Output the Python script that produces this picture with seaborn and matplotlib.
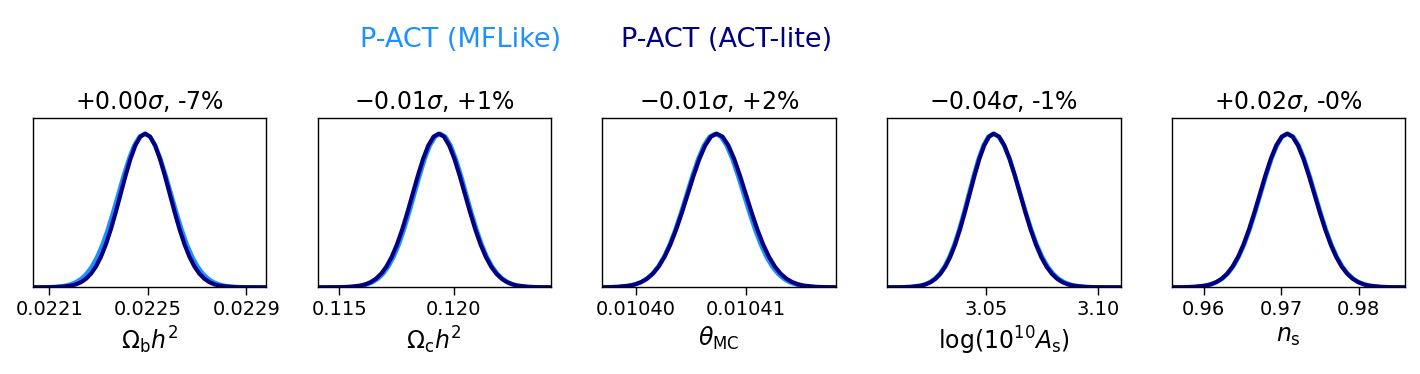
import matplotlib
matplotlib.use('Agg')
import matplotlib.pyplot as plt
import seaborn as sns

sns.set_style('ticks')
plt.rcParams['font.family'] = 'DejaVu Sans'
plt.rcParams['mathtext.fontset'] = 'dejavusans'
plt.rcParams['axes.edgecolor'] = 'black'
plt.rcParams['xtick.color'] = 'black'
plt.rcParams['text.color'] = 'black'
plt.rcParams['axes.labelcolor'] = 'black'

MFLIKE_COLOR = '#1e90ff'
ACTLITE_COLOR = '#000080'
run_labels = ['P-ACT (MFLike)', 'P-ACT (ACT-lite)']

param_labels = [r'$\Omega_{\rm b}h^2$', r'$\Omega_{\rm c}h^2$', r'$\theta_{\rm MC}$',
                r'$\log(10^{10}A_{\rm s})$', r'$n_{\rm s}$']
shift_sigma = [0.00, -0.01, -0.01, -0.04, 0.02]
width_change = [-7, 1, 2, -1, -0.4]

density = [0.0, 0.0001, 0.0007, 0.0031, 0.0111, 0.0198, 0.034, 0.0561, 0.0889, 0.1353,
           0.1979, 0.278, 0.3753, 0.4868, 0.6065, 0.7261, 0.8353, 0.9231, 0.9802, 1.0,
           0.9802, 0.9231, 0.8353, 0.7261, 0.6065, 0.4868, 0.3753, 0.278, 0.1979, 0.1353,
           0.0889, 0.0561, 0.034, 0.0198, 0.0111, 0.0031, 0.0007, 0.0001, 0.0]

ombh2_mflike = [0.02189575, 0.022014, 0.0220785, 0.0221215, 0.0221645, 0.022186, 0.0222075,
                0.022229, 0.0222505, 0.022272, 0.0222935, 0.022315, 0.0223365, 0.022358,
                0.0223795, 0.022401, 0.0224225, 0.022444, 0.0224655, 0.022487, 0.0225085,
                0.02253, 0.0225515, 0.022573, 0.0225945, 0.022616, 0.0226375, 0.022659,
                0.0226805, 0.022702, 0.0227235, 0.022745, 0.0227665, 0.022788, 0.0228095,
                0.0228525, 0.0228955, 0.02296, 0.02307825]
ombh2_actlite = [0.021939, 0.022049, 0.022109, 0.022149, 0.022189, 0.022209, 0.022229,
                 0.022249, 0.022269, 0.022289, 0.022309, 0.022329, 0.022349, 0.022369,
                 0.022389, 0.022409, 0.022429, 0.022449, 0.022469, 0.022489, 0.022509,
                 0.022529, 0.022549, 0.022569, 0.022589, 0.022609, 0.022629, 0.022649,
                 0.022669, 0.022689, 0.022709, 0.022729, 0.022749, 0.022769, 0.022789,
                 0.022829, 0.022869, 0.022929, 0.023039]

omch2_mflike = [0.113195, 0.114438, 0.115116, 0.115568, 0.11602, 0.116246, 0.116472,
                0.116698, 0.116924, 0.11715, 0.117376, 0.117602, 0.117828, 0.118054,
                0.11828, 0.118506, 0.118732, 0.118958, 0.119184, 0.11941, 0.119636,
                0.119862, 0.120088, 0.120314, 0.12054, 0.120766, 0.120992, 0.121218,
                0.121444, 0.12167, 0.121896, 0.122122, 0.122348, 0.122574, 0.1228,
                0.123252, 0.123704, 0.124382, 0.125625]
omch2_actlite = [0.11307, 0.114324, 0.115008, 0.115464, 0.11592, 0.116148, 0.116376,
                 0.116604, 0.116832, 0.11706, 0.117288, 0.117516, 0.117744, 0.117972,
                 0.1182, 0.118428, 0.118656, 0.118884, 0.119112, 0.11934, 0.119568,
                 0.119796, 0.120024, 0.120252, 0.12048, 0.120708, 0.120936, 0.121164,
                 0.121392, 0.12162, 0.121848, 0.122076, 0.122304, 0.122532, 0.12276,
                 0.123216, 0.123672, 0.124356, 0.12561]

theta_mflike = [0.01039292, 0.01039578, 0.01039734, 0.01039838, 0.01039942, 0.01039994,
                0.01040046, 0.01040098, 0.0104015, 0.01040202, 0.01040254, 0.01040306,
                0.01040358, 0.0104041, 0.01040462, 0.01040514, 0.01040566, 0.01040618,
                0.0104067, 0.01040722, 0.01040774, 0.01040826, 0.01040878, 0.0104093,
                0.01040982, 0.01041034, 0.01041086, 0.01041138, 0.0104119, 0.01041242,
                0.01041294, 0.01041346, 0.01041398, 0.0104145, 0.01041502, 0.01041606,
                0.0104171, 0.01041866, 0.01042152]
theta_actlite = [0.010392795, 0.01039571, 0.0103973, 0.01039836, 0.01039942, 0.01039995,
                 0.01040048, 0.01040101, 0.01040154, 0.01040207, 0.0104026, 0.01040313,
                 0.01040366, 0.01040419, 0.01040472, 0.01040525, 0.01040578, 0.01040631,
                 0.01040684, 0.01040737, 0.0104079, 0.01040843, 0.01040896, 0.01040949,
                 0.01041002, 0.01041055, 0.01041108, 0.01041161, 0.01041214, 0.01041267,
                 0.0104132, 0.01041373, 0.01041426, 0.01041479, 0.01041532, 0.01041638,
                 0.01041744, 0.01041903, 0.010421945]

logA_mflike = [2.9938, 3.00568, 3.01216, 3.01648, 3.0208, 3.02296, 3.02512, 3.02728, 3.02944,
               3.0316, 3.03376, 3.03592, 3.03808, 3.04024, 3.0424, 3.04456, 3.04672, 3.04888,
               3.05104, 3.0532, 3.05564, 3.05808, 3.06052, 3.06296, 3.0654, 3.06784, 3.07028,
               3.07272, 3.07516, 3.0776, 3.08004, 3.08248, 3.08492, 3.08736, 3.0898, 3.09468,
               3.09956, 3.10688, 3.1203]
logA_actlite = [2.9942, 3.00608, 3.01256, 3.01688, 3.0212, 3.02336, 3.02552, 3.02768, 3.02984,
                3.032, 3.03416, 3.03632, 3.03848, 3.04064, 3.0428, 3.04496, 3.04712, 3.04928,
                3.05144, 3.0536, 3.05594, 3.05828, 3.06062, 3.06296, 3.0653, 3.06764, 3.06998,
                3.07232, 3.07466, 3.077, 3.07934, 3.08168, 3.08402, 3.08636, 3.0887, 3.09338,
                3.09806, 3.10508, 3.11795]

ns_mflike = [0.95152, 0.955392, 0.957504, 0.958912, 0.96032, 0.961024, 0.961728, 0.962432,
             0.963136, 0.96384, 0.964544, 0.965248, 0.965952, 0.966656, 0.96736, 0.968064,
             0.968768, 0.969472, 0.970176, 0.97088, 0.971584, 0.972288, 0.972992, 0.973696,
             0.9744, 0.975104, 0.975808, 0.976512, 0.977216, 0.97792, 0.978624, 0.979328,
             0.980032, 0.980736, 0.98144, 0.982848, 0.984256, 0.986368, 0.99024]
ns_actlite = [0.95142, 0.955292, 0.957404, 0.958812, 0.96022, 0.960924, 0.961628, 0.962332,
              0.963036, 0.96374, 0.964444, 0.965148, 0.965852, 0.966556, 0.96726, 0.967964,
              0.968668, 0.969372, 0.970076, 0.97078, 0.971484, 0.972188, 0.972892, 0.973596,
              0.9743, 0.975004, 0.975708, 0.976412, 0.977116, 0.97782, 0.978524, 0.979228,
              0.979932, 0.980636, 0.98134, 0.982748, 0.984156, 0.986268, 0.99014]

mflike_curves = [ombh2_mflike, omch2_mflike, theta_mflike, logA_mflike, ns_mflike]
actlite_curves = [ombh2_actlite, omch2_actlite, theta_actlite, logA_actlite, ns_actlite]

x_limits = [(0.022033, 0.022981), (0.114061, 0.124235), (0.010396927, 0.010418235),
            (3.00606, 3.10997), (0.9559, 0.98603)]
x_ticks = [[0.0221, 0.0225, 0.0229], [0.115, 0.120], [0.01040, 0.01041], [3.05, 3.10],
           [0.96, 0.97, 0.98]]
x_ticklabels = [['0.0221', '0.0225', '0.0229'], ['0.115', '0.120'], ['0.01040', '0.01041'],
                ['3.05', '3.10'], ['0.96', '0.97', '0.98']]

fig, axes = plt.subplots(1, 5, figsize=(14.2, 3.74), dpi=100)
fig.subplots_adjust(left=0.0232, right=0.9896, bottom=0.2318, top=0.6837, wspace=0.22)

for i, ax in enumerate(axes):
    sns.lineplot(x=mflike_curves[i], y=density, color=MFLIKE_COLOR, lw=3,
                 estimator=None, sort=False, ax=ax)
    sns.lineplot(x=actlite_curves[i], y=density, color=ACTLITE_COLOR, lw=3,
                 estimator=None, sort=False, ax=ax)
    ax.set_xlim(*x_limits[i])
    ax.set_ylim(0, 1.1)
    ax.set_yticks([])
    ax.set_ylabel('')
    ax.set_xticks(x_ticks[i])
    ax.set_xticklabels(x_ticklabels[i])
    ax.tick_params(axis='x', labelsize=14, length=5.5, width=1.0, direction='out')
    ax.set_xlabel(param_labels[i], fontsize=17)
    for sp in ax.spines.values():
        sp.set_visible(True)
        sp.set_linewidth(1.0)
    ax.set_title(f'${shift_sigma[i]:+.2f}\\sigma$, {width_change[i]:+.0f}%', fontsize=17, pad=7)

leg = fig.legend(axes[0].lines[:2], run_labels, loc='center', bbox_to_anchor=(0.42, 0.893),
                 ncol=2, frameon=False, handlelength=0, handletextpad=0, columnspacing=2.2,
                 fontsize=19.5, labelcolor='linecolor')
for h in leg.legend_handles:
    h.set_visible(False)

fig.savefig('out.png', dpi=100)
plt.close(fig)
